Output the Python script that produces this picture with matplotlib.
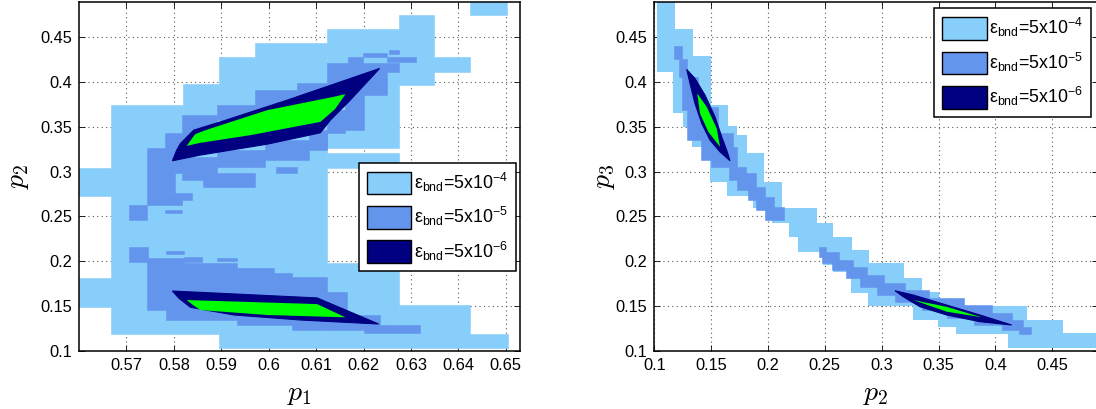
import matplotlib
matplotlib.use('Agg')
import matplotlib.pyplot as plt
from matplotlib.patches import Patch

# ----------------------------- colores ------------------------------
c_lo = '#87cefa'   # eps_bnd = 5e-4
c_mid = '#6495ed'  # eps_bnd = 5e-5
c_hi = '#000080'   # eps_bnd = 5e-6
c_in = '#00ff00'   # region interior

plt.rcParams['font.family'] = ['Liberation Sans', 'DejaVu Sans']
plt.rcParams['mathtext.fontset'] = 'custom'
plt.rcParams['mathtext.rm'] = 'Liberation Sans'
plt.rcParams['mathtext.it'] = 'Liberation Sans:italic'
plt.rcParams['mathtext.sf'] = 'Liberation Sans'

labels = ['ε$_{\\rm bnd}$=5x10$^{-4}$',
          'ε$_{\\rm bnd}$=5x10$^{-5}$',
          'ε$_{\\rm bnd}$=5x10$^{-6}$']

# ----------------------------- datos: (p1, p2) ----------------------
# cajas (x0, x1, y0, y1)
lo_p1p2 = [
    (0.5600, 0.5668, 0.2728, 0.3044),
    (0.5600, 0.5668, 0.1492, 0.1816),
    (0.5668, 0.5820, 0.1183, 0.3744),
    (0.5820, 0.5896, 0.1183, 0.3975),
    (0.5896, 0.5972, 0.1027, 0.4283),
    (0.5972, 0.6123, 0.1027, 0.4440),
    (0.6123, 0.6275, 0.1027, 0.1976),
    (0.6123, 0.6275, 0.3037, 0.3212),
    (0.6123, 0.6275, 0.3262, 0.4593),
    (0.6275, 0.6349, 0.3966, 0.4749),
    (0.6349, 0.6425, 0.4117, 0.4284),
    (0.6425, 0.6502, 0.4749, 0.4900),
    (0.6275, 0.6425, 0.1027, 0.1510),
    (0.6425, 0.6505, 0.1027, 0.1186),
]
mid_p1p2 = [
    (0.6253, 0.6275, 0.4321, 0.4359),
    (0.6198, 0.6249, 0.4284, 0.4330),
    (0.6249, 0.6311, 0.4228, 0.4284),
    (0.6168, 0.6198, 0.4190, 0.4284),
    (0.6124, 0.6275, 0.4117, 0.4210),
    (0.6201, 0.6249, 0.3856, 0.4154),
    (0.6161, 0.6201, 0.3465, 0.3930),
    (0.6124, 0.6161, 0.3428, 0.3688),
    (0.6103, 0.6124, 0.3279, 0.3465),
    (0.5795, 0.5890, 0.2981, 0.3167),
    (0.5890, 0.5993, 0.3056, 0.3242),
    (0.5993, 0.6084, 0.3130, 0.3353),
    (0.6084, 0.6124, 0.3242, 0.3428),
    (0.5817, 0.5890, 0.3400, 0.3633),
    (0.5890, 0.5971, 0.3580, 0.3750),
    (0.5971, 0.6059, 0.3700, 0.3912),
    (0.6059, 0.6124, 0.3800, 0.3986),
    (0.6124, 0.6201, 0.3900, 0.4117),
    (0.5781, 0.5839, 0.3167, 0.3428),
    (0.5744, 0.5802, 0.2758, 0.3260),
    (0.5744, 0.5817, 0.2627, 0.2758),
    (0.5705, 0.5744, 0.2460, 0.2627),
    (0.5817, 0.5861, 0.2907, 0.2981),
    (0.5861, 0.5971, 0.2832, 0.2981),
    (0.6015, 0.6059, 0.2981, 0.3056),
    (0.5817, 0.5839, 0.2683, 0.2758),
    (0.5781, 0.5817, 0.2534, 0.2571),
    (0.5705, 0.5745, 0.1994, 0.2161),
    (0.5783, 0.5821, 0.2080, 0.2117),
    (0.5821, 0.5860, 0.1995, 0.2050),
    (0.5890, 0.5934, 0.2000, 0.2040),
    (0.5744, 0.5821, 0.1454, 0.2032),
    (0.5783, 0.5821, 0.1343, 0.1454),
    (0.5821, 0.5934, 0.1343, 0.1976),
    (0.5934, 0.6011, 0.1287, 0.1920),
    (0.6011, 0.6049, 0.1287, 0.1864),
    (0.6049, 0.6123, 0.1231, 0.1820),
    (0.6123, 0.6165, 0.1231, 0.1659),
    (0.6165, 0.6200, 0.1231, 0.1399),
    (0.6200, 0.6235, 0.1194, 0.1399),
    (0.6235, 0.6320, 0.1194, 0.1287),
]
# contornos (p1, p2)
hi_up_p1 = [0.5797, 0.5806, 0.5814, 0.5842, 0.5900, 0.6039, 0.6234, 0.6172, 0.6130, 0.6109, 0.5997, 0.5856]
hi_up_p2 = [0.3122, 0.3240, 0.3316, 0.3465, 0.3560, 0.3800, 0.4154, 0.3800, 0.3576, 0.3435, 0.3308, 0.3186]
in_up_p1 = [0.5827, 0.5845, 0.5870, 0.5997, 0.6137, 0.6162, 0.6140, 0.6109, 0.5962, 0.5856]
in_up_p2 = [0.3289, 0.3420, 0.3470, 0.3688, 0.3837, 0.3867, 0.3700, 0.3557, 0.3409, 0.3323]
hi_dn_p1 = [0.5797, 0.6102, 0.6232, 0.6067, 0.5927, 0.5835, 0.5811]
hi_dn_p2 = [0.1667, 0.1590, 0.1298, 0.1343, 0.1399, 0.1485, 0.1585]
in_dn_p1 = [0.5827, 0.6102, 0.6162, 0.5997, 0.5856, 0.5841]
in_dn_p2 = [0.1566, 0.1521, 0.1373, 0.1399, 0.1454, 0.1508]

# ----------------------------- datos: (p2, p3) ----------------------
lo_p2 = [0.1021, 0.1182, 0.1182, 0.1343, 0.1343, 0.1496, 0.1496, 0.1651, 0.1651, 0.1730,
         0.1730, 0.1813, 0.1813, 0.1965, 0.1965, 0.2120, 0.2120, 0.2428, 0.2428, 0.2574,
         0.2574, 0.2736, 0.2736, 0.2891, 0.2891, 0.3196, 0.3196, 0.3352, 0.3352, 0.3507,
         0.3507, 0.4275, 0.4275, 0.4592, 0.4592, 0.4900, 0.4900,
         0.4113, 0.4113, 0.3653, 0.3653, 0.3498, 0.3498, 0.3273, 0.3273, 0.2882,
         0.2882, 0.2727, 0.2727, 0.2574, 0.2574, 0.2486, 0.2486, 0.2267, 0.2267, 0.2187,
         0.2187, 0.2033, 0.2033, 0.1871, 0.1871, 0.1642, 0.1642, 0.1490, 0.1490, 0.1334,
         0.1334, 0.1255, 0.1255, 0.1167, 0.1167, 0.1021]
lo_p3 = [0.4900, 0.4900, 0.4593, 0.4593, 0.4291, 0.4291, 0.3744, 0.3744, 0.3509, 0.3509,
         0.3409, 0.3409, 0.3204, 0.3204, 0.2887, 0.2887, 0.2590, 0.2590, 0.2423, 0.2423,
         0.2273, 0.2273, 0.2125, 0.2125, 0.1976, 0.1976, 0.1808, 0.1808, 0.1659, 0.1659,
         0.1499, 0.1499, 0.1343, 0.1343, 0.1194, 0.1194, 0.1027,
         0.1027, 0.1186, 0.1186, 0.1261, 0.1261, 0.1343, 0.1343, 0.1499, 0.1499,
         0.1648, 0.1648, 0.1882, 0.1882, 0.1957, 0.1957, 0.2106, 0.2106, 0.2273, 0.2273,
         0.2423, 0.2423, 0.2590, 0.2590, 0.2728, 0.2728, 0.2887, 0.2887, 0.3271, 0.3271,
         0.3502, 0.3502, 0.3651, 0.3651, 0.4116, 0.4116]
mid_p2p3 = [
    (0.1173, 0.1243, 0.4265, 0.4403),
    (0.1213, 0.1289, 0.4061, 0.4265),
    (0.1243, 0.1380, 0.3688, 0.4061),
    (0.1289, 0.1560, 0.3353, 0.3720),
    (0.1411, 0.1690, 0.3130, 0.3428),
    (0.1502, 0.1730, 0.3056, 0.3279),
    (0.1654, 0.1806, 0.2907, 0.3056),
    (0.1730, 0.1898, 0.2795, 0.2981),
    (0.1822, 0.1974, 0.2683, 0.2832),
    (0.1898, 0.2050, 0.2571, 0.2720),
    (0.1974, 0.2141, 0.2460, 0.2609),
    (0.2446, 0.2506, 0.2050, 0.2162),
    (0.2476, 0.2628, 0.1976, 0.2106),
    (0.2567, 0.2750, 0.1901, 0.2013),
    (0.2689, 0.2871, 0.1808, 0.1939),
    (0.2811, 0.3024, 0.1715, 0.1845),
    (0.2963, 0.3206, 0.1622, 0.1752),
    (0.3115, 0.3419, 0.1548, 0.1678),
    (0.3358, 0.3723, 0.1455, 0.1585),
    (0.3571, 0.3967, 0.1362, 0.1510),
    (0.3815, 0.4149, 0.1287, 0.1417),
    (0.4058, 0.4241, 0.1231, 0.1343),
    (0.4210, 0.4317, 0.1183, 0.1268),
]
hi_a_p2 = [0.1285, 0.1358, 0.1446, 0.1534, 0.1593, 0.1642, 0.1666, 0.1578, 0.1490, 0.1417, 0.1358, 0.1314]
hi_a_p3 = [0.4143, 0.4042, 0.3856, 0.3613, 0.3390, 0.3222, 0.3122, 0.3222, 0.3353, 0.3540, 0.3762, 0.3986]
in_a_p2 = [0.1378, 0.1461, 0.1549, 0.1578, 0.1475, 0.1402]
in_a_p3 = [0.3875, 0.3725, 0.3484, 0.3278, 0.3446, 0.3651]
hi_b_p2 = [0.3117, 0.3278, 0.3572, 0.3865, 0.4143, 0.3865, 0.3572, 0.3337, 0.3190]
hi_b_p3 = [0.1670, 0.1622, 0.1510, 0.1399, 0.1287, 0.1324, 0.1399, 0.1491, 0.1603]
in_b_p2 = [0.3278, 0.3572, 0.3880, 0.3572]
in_b_p3 = [0.1566, 0.1490, 0.1373, 0.1436]

ticks_p1 = [0.57, 0.58, 0.59, 0.60, 0.61, 0.62, 0.63, 0.64, 0.65]
ticklab_p1 = ['0.57', '0.58', '0.59', '0.6', '0.61', '0.62', '0.63', '0.64', '0.65']
ticks_p = [0.10, 0.15, 0.20, 0.25, 0.30, 0.35, 0.40, 0.45]
ticklab_p = ['0.1', '0.15', '0.2', '0.25', '0.3', '0.35', '0.4', '0.45']


def cajas(ax, boxes, color):
    x0 = [b[0] for b in boxes]
    w = [b[1] - b[0] for b in boxes]
    y0 = [b[2] for b in boxes]
    h = [b[3] - b[2] for b in boxes]
    ax.bar(x0, h, width=w, bottom=y0, align='edge', color=color, edgecolor=color, linewidth=0.4)


def formato(ax, xt, xtl, xlim, xlab, ylab, ylabx):
    ax.set_xlim(*xlim)
    ax.set_ylim(0.1, 0.49)
    ax.set_xticks(xt)
    ax.set_xticklabels(xtl)
    ax.set_yticks(ticks_p)
    ax.set_yticklabels(ticklab_p)
    ax.set_axisbelow(True)
    ax.grid(True, linestyle=(0, (1, 3)), color='0.35', linewidth=0.8)
    ax.tick_params(direction='in', top=True, right=True, length=4, width=0.6,
                   labelsize=11.8, pad=5)
    for s in ax.spines.values():
        s.set_linewidth(1.1)
    ax.set_xlabel(xlab, fontsize=20, math_fontfamily='cm')
    ax.set_ylabel(ylab, fontsize=20, math_fontfamily='cm')
    ax.xaxis.label.set_va('center')
    ax.yaxis.label.set_va('center')
    ax.xaxis.set_label_coords(0.5, -0.125)
    ax.yaxis.set_label_coords(ylabx, 0.5)


fig = plt.figure(figsize=(10.96, 4.09), dpi=100)
ax1 = fig.add_axes([0.07208, 0.14254, 0.40237, 0.85330])
ax2 = fig.add_axes([0.59699, 0.14254, 0.40456, 0.85330])

# --- izquierda
cajas(ax1, lo_p1p2, c_lo)
cajas(ax1, mid_p1p2, c_mid)
ax1.fill(hi_up_p1, hi_up_p2, color=c_hi, lw=0.8)
ax1.fill(hi_dn_p1, hi_dn_p2, color=c_hi, lw=0.8)
ax1.fill(in_up_p1, in_up_p2, color=c_in, lw=0)
ax1.fill(in_dn_p1, in_dn_p2, color=c_in, lw=0)
formato(ax1, ticks_p1, ticklab_p1, (0.560, 0.653), '$p_1$', '$p_2$', -0.138)

# --- derecha
ax2.fill(lo_p2, lo_p3, color=c_lo, lw=0)
cajas(ax2, mid_p2p3, c_mid)
ax2.fill(hi_a_p2, hi_a_p3, color=c_hi, lw=0.8)
ax2.fill(hi_b_p2, hi_b_p3, color=c_hi, lw=0.8)
ax2.fill(in_a_p2, in_a_p3, color=c_in, lw=0)
ax2.fill(in_b_p2, in_b_p3, color=c_in, lw=0)
formato(ax2, ticks_p, ticklab_p, (0.1, 0.49), '$p_2$', '$p_3$', -0.1145)

handles = [Patch(facecolor=c, edgecolor='k', linewidth=1.0) for c in (c_lo, c_mid, c_hi)]
for ax, anchor in ((ax1, (0.991, 0.5387)), (ax2, (0.9858, 0.981))):
    leg = ax.legend(handles, labels, loc='upper right', bbox_to_anchor=anchor,
                    borderaxespad=0, fontsize=12.8, fancybox=False, framealpha=1,
                    edgecolor='k', handlelength=2.5, handleheight=1.6,
                    handletextpad=0.15, labelspacing=0.6, borderpad=0.45)
    leg.get_frame().set_linewidth(1.1)

fig.savefig('out.png', dpi=100)
